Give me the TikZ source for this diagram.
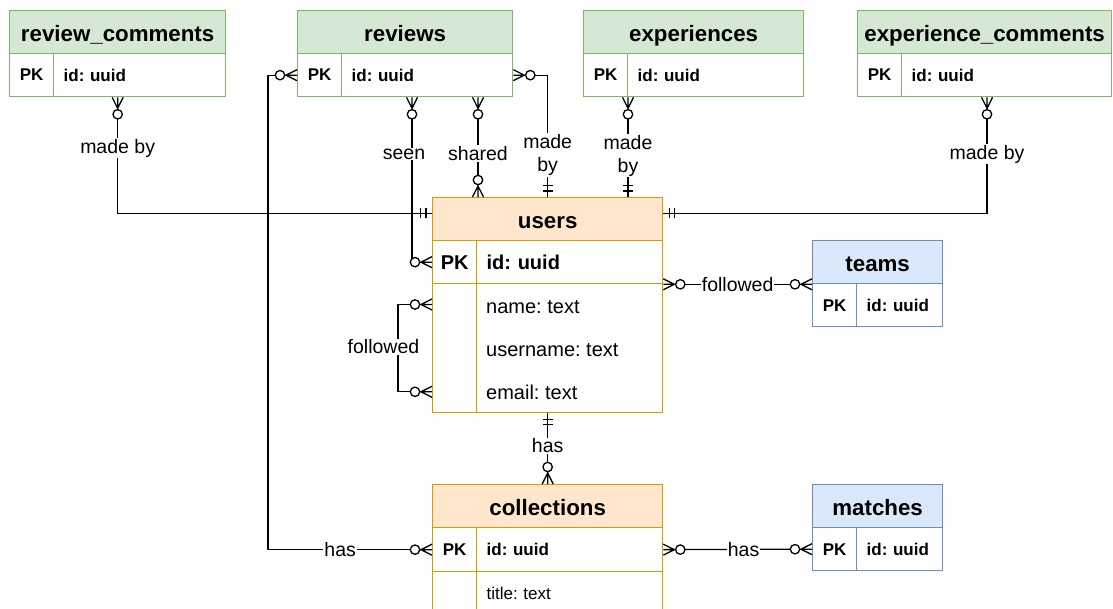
\documentclass[tikz,border=0pt]{standalone}
\usepackage{fontspec}
\setmainfont{Liberation Sans}
\usetikzlibrary{calc,arrows.meta}
\frenchspacing

\definecolor{gS}{HTML}{82B366}\definecolor{gF}{HTML}{D5E8D4}
\definecolor{oS}{HTML}{D79B00}\definecolor{oF}{HTML}{FFE6CC}
\definecolor{bS}{HTML}{6C8EBF}\definecolor{bF}{HTML}{DAE8FC}

\newcommand\fHead{\fontsize{22.3pt}{26pt}\selectfont\bfseries}
\newcommand\fBig{\fontsize{20pt}{24pt}\selectfont}
\newcommand\fSm{\fontsize{17pt}{20pt}\selectfont}
\newcommand\fLbl{\fontsize{19.5pt}{23pt}\selectfont}

\pgfdeclarearrow{
  name=ZMany,
  parameters={},
  setup code={
    \pgfarrowssettipend{0pt}
    \pgfarrowssetlineend{-21.7pt}
    \pgfarrowssetbackend{-22pt}
    \pgfarrowssetvisualbackend{-22pt}
    \pgfarrowsupperhullpoint{0pt}{5.5pt}
    \pgfarrowsupperhullpoint{-22pt}{5.5pt}
  },
  drawing code={
    \pgfpathmoveto{\pgfqpoint{-11pt}{0pt}}
    \pgfpathlineto{\pgfqpoint{0pt}{5.5pt}}
    \pgfpathmoveto{\pgfqpoint{-11pt}{0pt}}
    \pgfpathlineto{\pgfqpoint{0pt}{-5.5pt}}
    \pgfpathmoveto{\pgfqpoint{-12.3pt}{0pt}}
    \pgfpathlineto{\pgfqpoint{0pt}{0pt}}
    \pgfusepathqstroke
    \pgfpathcircle{\pgfqpoint{-17pt}{0pt}}{4.7pt}
    \pgfsetfillcolor{white}
    \pgfusepathqfillstroke
  },
}
\pgfdeclarearrow{
  name=MOne,
  parameters={},
  setup code={
    \pgfarrowssettipend{0pt}
    \pgfarrowssetlineend{0pt}
    \pgfarrowssetbackend{-12pt}
    \pgfarrowssetvisualbackend{-12pt}
    \pgfarrowsupperhullpoint{0pt}{5pt}
    \pgfarrowsupperhullpoint{-12pt}{5pt}
  },
  drawing code={
    \pgfpathmoveto{\pgfqpoint{-6pt}{5pt}}
    \pgfpathlineto{\pgfqpoint{-6pt}{-5pt}}
    \pgfpathmoveto{\pgfqpoint{-11.5pt}{5pt}}
    \pgfpathlineto{\pgfqpoint{-11.5pt}{-5pt}}
    \pgfusepathqstroke
  },
}

\tikzset{
  cell/.style={draw, line width=1.3pt, inner sep=0pt, anchor=north west, minimum height=43pt, fill=white},
  gcell/.style={cell, draw=gS},
  ocell/.style={cell, draw=oS},
  bcell/.style={cell, draw=bS},
  hd/.style={font=\fHead, text height=19pt, text depth=0pt},
  kc/.style={minimum width=44pt},
  vc/.style={align=left, inner xsep=10pt, text width=#1},
  attr/.style={anchor=base west, inner sep=0pt, font=\fBig},
  conn/.style={line width=1.3pt, black},
  zz/.style={conn, arrows={ZMany-ZMany}},
  zo/.style={conn, arrows={ZMany-MOne}},
  oz/.style={conn, arrows={MOne-ZMany}},
  lbl/.style={fill=white, inner sep=1pt, font=\fLbl, text=black},
}

\begin{document}
\begin{tikzpicture}[x=1pt,y=-1pt]
\useasboundingbox (0,0) rectangle (1113,608);
\clip (0,0) rectangle (1113,608);

% review_comments
\node[gcell, fill=gF, hd, minimum width=216pt] (rc_h) at (9,10) {review\_comments};
\node[gcell, kc, font=\fSm\bfseries] (rc_k) at (9,53) {PK};
\node[gcell, vc=152pt, font=\fSm\bfseries] (rc_v) at (53,53) {id: uuid};
% reviews
\node[gcell, fill=gF, hd, minimum width=215pt] (rv_h) at (297,10) {reviews};
\node[gcell, kc, font=\fSm\bfseries] (rv_k) at (297,53) {PK};
\node[gcell, vc=151pt, font=\fSm\bfseries] (rv_v) at (341,53) {id: uuid};
% experiences
\node[gcell, fill=gF, hd, minimum width=220pt] (ex_h) at (583,10) {experiences};
\node[gcell, kc, font=\fSm\bfseries] (ex_k) at (583,53) {PK};
\node[gcell, vc=156pt, font=\fSm\bfseries] (ex_v) at (627,53) {id: uuid};
% experience_comments
\node[gcell, fill=gF, hd, minimum width=254pt] (ec_h) at (857,10) {experience\_comments};
\node[gcell, kc, font=\fSm\bfseries] (ec_k) at (857,53) {PK};
\node[gcell, vc=190pt, font=\fSm\bfseries] (ec_v) at (901,53) {id: uuid};
% users
\node[ocell, fill=oF, hd, minimum width=230pt] (us_h) at (432,197) {users};
\node[ocell, kc, font=\fBig\bfseries] (us_k) at (432,240) {PK};
\node[ocell, vc=166pt, font=\fBig\bfseries] (us_v) at (476,240) {id: uuid};
\node[ocell, kc, minimum height=129pt] (us_k2) at (432,283) {};
\node[ocell, minimum width=186pt, minimum height=129pt] (us_v2) at (476,283) {};
\node[attr] (us_name) at (486,313) {name: text};
\node[attr] (us_uname) at (486,356) {username: text};
\node[attr] (us_email) at (486,399) {email: text};
% teams
\node[bcell, fill=bF, hd, minimum width=130pt] (tm_h) at (812,240) {teams};
\node[bcell, kc, font=\fSm\bfseries] (tm_k) at (812,283) {PK};
\node[bcell, vc=66pt, font=\fSm\bfseries] (tm_v) at (856,283) {id: uuid};
% collections
\node[ocell, fill=oF, hd, minimum width=230pt] (co_h) at (432,484) {collections};
\node[ocell, kc, minimum height=44pt, font=\fSm\bfseries] (co_k) at (432,527) {PK};
\node[ocell, vc=166pt, minimum height=44pt, font=\fSm\bfseries] (co_v) at (476,527) {id: uuid};
\node[ocell, kc] (co_k2) at (432,571) {};
\node[ocell, vc=166pt, font=\fSm] (co_v2) at (476,571) {title: text};
% matches
\node[bcell, fill=bF, hd, minimum width=130pt] (ma_h) at (812,484) {matches};
\node[bcell, kc, font=\fSm\bfseries] (ma_k) at (812,527) {PK};
\node[bcell, vc=66pt, font=\fSm\bfseries] (ma_v) at (856,527) {id: uuid};

% connectors
\coordinate (seA) at ($(rv_k.south west)+(115,0)$);
\coordinate (shA) at ($(rv_k.south west)+(181,0)$);
\coordinate (exA) at ($(ex_k.south west)+(45,0)$);
\coordinate (ecA) at ($(ec_k.south west)+(130,0)$);
\coordinate (flA) at ($(us_k2.north west)+(0,21.5)$);
\coordinate (flB) at ($(us_k2.south west)+(0,-21.5)$);

\draw[zo] (rc_h.center |- rc_v.south) |- ($(us_h.west)+(0,-6)$) node[lbl,pos=0.219]{made by};
\draw[zo] (ecA) |- ($(us_h.east)+(0,-6)$) node[lbl,pos=0.245]{made by};
\draw[zz] (rv_k.west) -- ++(-29,0) |- (co_k.west) node[lbl,pos=0.72]{has};
\draw[zz] (seA) |- (us_k.west) node[lbl,pos=0.172,xshift=-8pt]{seen};
\draw[zz] (shA) -- (shA |- us_h.north) node[lbl,pos=0.564]{shared};
\draw[zo] (rv_v.east) -| (us_h.north) node[lbl,pos=0.828,align=center]{made\\by};
\draw[zo] (exA) -- (exA |- us_h.north) node[lbl,pos=0.584,align=center]{made\\by};
\draw[zz] (us_v.south east) -- (tm_h.south west) node[lbl,pos=0.5]{followed};
\draw[zz] (flA) -- ++(-34,0) |- (flB);
\node[lbl] (fl_lbl) at (383.5,347) {followed};
\draw[oz] (us_v2.south -| us_h.south) -- (co_h.north) node[lbl,pos=0.458]{has};
\draw[zz] (co_v.east) -- (ma_k.west) node[lbl,pos=0.54]{has};
\end{tikzpicture}
\end{document}
